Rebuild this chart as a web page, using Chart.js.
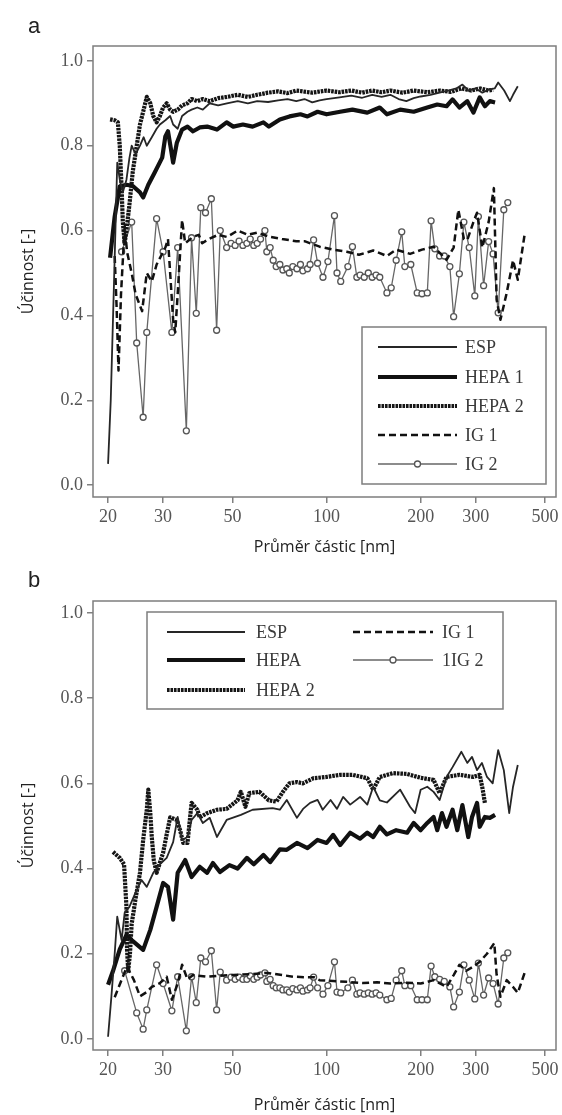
<!DOCTYPE html>
<html>
<head>
<meta charset="utf-8">
<script src="https://cdn.jsdelivr.net/npm/chart.js@4"></script>
<style>
  body { margin: 0; background: #fff; }
  canvas { display: block; }
</style>
</head>
<body>
<canvas id="chartA" width="562" height="557"></canvas>
<canvas id="chartB" width="562" height="558"></canvas>
<script>
const xTicks = [20, 30, 50, 100, 200, 300, 500];
const yTicks = [0, 0.2, 0.4, 0.6, 0.8, 1.0];

const legendA = ['ESP', 'HEPA 1', 'HEPA 2', 'IG 1', 'IG 2'];
const legendB = ['ESP', 'HEPA', 'HEPA 2', 'IG 1', '1IG 2'];

// panel a: [particle diameter nm, efficiency]
const espA = [[20.0,0.05],[20.4,0.2],[20.9,0.48],[21.4,0.76],[21.8,0.72],[22.3,0.69],[22.9,0.72],[23.4,0.77],[23.8,0.8],[24.5,0.78],[25.3,0.8],[26.0,0.82],[26.6,0.8],[27.6,0.82],[28.6,0.84],[29.3,0.85],[30.5,0.86],[31.6,0.87],[32.3,0.85],[33.4,0.84],[34.5,0.87],[35.9,0.88],[37.0,0.885],[38.6,0.89],[40.2,0.885],[42.3,0.9],[45.0,0.895],[48.0,0.9],[52.0,0.905],[56.0,0.9],[60.0,0.905],[65.0,0.903],[70.0,0.907],[75.0,0.91],[80.0,0.905],[85.0,0.91],[90.0,0.902],[95.0,0.907],[100,0.91],[110,0.914],[120,0.918],[130,0.913],[140,0.92],[150,0.915],[160,0.92],[170,0.91],[180,0.905],[190,0.912],[200,0.916],[215,0.92],[230,0.925],[245,0.93],[260,0.935],[272,0.944],[285,0.93],[300,0.935],[315,0.925],[330,0.932],[345,0.935],[354,0.949],[370,0.93],[386,0.905],[395,0.92],[409,0.94]];

const hepa1A = [[20.3,0.536],[21.0,0.633],[21.8,0.704],[22.9,0.708],[24.0,0.705],[25.3,0.69],[25.9,0.678],[26.9,0.708],[28.2,0.737],[29.8,0.772],[30.5,0.822],[31.1,0.834],[31.8,0.791],[32.3,0.76],[33.2,0.807],[34.5,0.838],[35.9,0.845],[37.4,0.834],[39.3,0.843],[41.5,0.845],[44.6,0.838],[47.9,0.855],[50.3,0.845],[54.0,0.85],[58.0,0.845],[62.8,0.855],[65.4,0.845],[70.9,0.862],[76.1,0.869],[82.5,0.874],[86.9,0.869],[93.6,0.88],[100,0.874],[110.5,0.88],[121,0.885],[135,0.878],[148,0.89],[156,0.874],[172,0.885],[190,0.88],[210,0.89],[226,0.897],[242,0.893],[253,0.909],[266,0.89],[282,0.905],[295,0.878],[309,0.914],[321,0.893],[333,0.905],[346,0.902]];

const hepa2A = [[20.3,0.862],[21.0,0.86],[21.5,0.855],[21.8,0.8],[22.1,0.7],[22.3,0.62],[22.6,0.57],[22.9,0.6],[23.4,0.66],[24.0,0.74],[24.7,0.8],[25.3,0.85],[25.9,0.88],[26.6,0.915],[27.3,0.9],[27.9,0.87],[28.6,0.855],[29.3,0.87],[30.0,0.89],[30.8,0.9],[31.6,0.885],[32.3,0.88],[33.4,0.885],[34.5,0.895],[35.9,0.9],[37.0,0.91],[38.6,0.905],[40.2,0.91],[42.3,0.905],[45.0,0.912],[48.0,0.915],[52.0,0.92],[56.0,0.915],[60.0,0.92],[65.0,0.925],[70.0,0.928],[75.0,0.924],[80.0,0.93],[90.0,0.925],[100,0.93],[110,0.926],[120,0.93],[130,0.925],[140,0.93],[150,0.926],[160,0.93],[175,0.925],[190,0.93],[210,0.926],[230,0.93],[250,0.927],[270,0.935],[290,0.93],[310,0.935],[330,0.93],[341,0.932]];

const ig1A = [[21.0,0.54],[21.3,0.42],[21.6,0.27],[22.0,0.45],[22.6,0.61],[23.0,0.55],[23.8,0.5],[24.5,0.45],[25.7,0.41],[26.6,0.5],[27.6,0.48],[28.6,0.52],[29.3,0.535],[30.5,0.56],[31.1,0.58],[32.3,0.39],[32.8,0.36],[33.4,0.45],[34.5,0.625],[35.3,0.57],[37.4,0.585],[39.0,0.59],[40.0,0.57],[42.0,0.58],[45.0,0.59],[48.0,0.585],[52.0,0.6],[56.0,0.59],[60.0,0.595],[66.0,0.585],[72.0,0.58],[80.0,0.575],[85.0,0.575],[95.0,0.562],[105,0.555],[116,0.55],[127,0.543],[141,0.553],[156,0.54],[167,0.555],[185,0.545],[202,0.555],[220,0.562],[242,0.531],[255,0.56],[264,0.649],[275,0.58],[282,0.578],[295,0.62],[303,0.642],[315,0.56],[330,0.62],[343,0.70],[350,0.437],[360,0.39],[377,0.453],[395,0.53],[409,0.484],[431,0.595]];

const ig2A = [[22.1,0.55],[23.8,0.62],[24.7,0.335],[25.9,0.16],[26.6,0.36],[28.6,0.628],[30.0,0.55],[32.0,0.36],[33.4,0.56],[35.6,0.128],[37.0,0.583],[38.3,0.405],[39.6,0.654],[41.0,0.642],[42.8,0.675],[44.5,0.365],[45.7,0.6],[47.9,0.56],[49.5,0.57],[51.0,0.565],[52.5,0.575],[54.0,0.565],[55.6,0.57],[57.0,0.58],[58.5,0.565],[60.0,0.57],[61.5,0.58],[63.5,0.6],[64.4,0.55],[66.0,0.56],[67.5,0.53],[69.0,0.515],[70.9,0.52],[72.5,0.507],[74.6,0.51],[76.0,0.5],[78.0,0.515],[80.4,0.51],[82.5,0.52],[84.0,0.505],[86.9,0.51],[88.6,0.52],[90.9,0.578],[93.6,0.523],[97.4,0.49],[101,0.527],[106,0.635],[108,0.5],[111,0.48],[117,0.515],[121,0.562],[125,0.49],[128,0.495],[132,0.49],[136,0.5],[140,0.49],[144,0.495],[148,0.49],[156,0.453],[161,0.465],[167,0.53],[174,0.597],[178,0.515],[186,0.52],[195,0.453],[202,0.451],[210,0.453],[216,0.623],[222,0.557],[230,0.54],[238,0.54],[248,0.515],[255,0.397],[266,0.498],[275,0.62],[286,0.56],[298,0.446],[306,0.633],[318,0.47],[330,0.574],[341,0.545],[354,0.406],[369,0.649],[380,0.666]];

// panel b
const espB = [[20.0,0.005],[20.5,0.1],[21.0,0.2],[21.4,0.287],[22.1,0.232],[22.6,0.296],[23.4,0.31],[24.7,0.35],[25.6,0.373],[26.6,0.357],[27.9,0.39],[29.3,0.41],[30.8,0.425],[32.3,0.462],[33.4,0.521],[34.5,0.467],[35.9,0.474],[37.0,0.514],[38.6,0.53],[40.2,0.507],[42.3,0.519],[44.6,0.474],[47.9,0.514],[53.2,0.526],[58.0,0.538],[67.2,0.542],[70.9,0.538],[74.6,0.561],[80.4,0.519],[84.1,0.54],[88.6,0.554],[93.6,0.561],[97.2,0.538],[103,0.561],[108,0.54],[113,0.568],[119,0.55],[128,0.568],[135,0.55],[141,0.592],[148,0.56],[156,0.555],[172,0.585],[185,0.545],[192,0.53],[200,0.585],[210,0.592],[220,0.58],[230,0.561],[242,0.615],[253,0.638],[270,0.674],[282,0.648],[292,0.662],[303,0.631],[314,0.648],[326,0.615],[340,0.6],[354,0.678],[369,0.631],[384,0.53],[395,0.592],[409,0.643]];

const hepa1B = [[20.0,0.127],[20.75,0.16],[21.8,0.21],[22.9,0.244],[23.8,0.232],[25.9,0.209],[27.3,0.256],[28.6,0.31],[30.0,0.366],[31.1,0.357],[32.3,0.28],[33.4,0.39],[35.3,0.42],[37.0,0.38],[39.3,0.404],[41.5,0.39],[43.3,0.413],[45.6,0.392],[48.9,0.408],[51.9,0.4],[55.6,0.425],[58.5,0.41],[62.8,0.432],[66.0,0.415],[70.9,0.445],[74.6,0.444],[80.4,0.46],[86.9,0.448],[93.6,0.467],[100,0.46],[105,0.479],[110.5,0.455],[119,0.484],[128,0.47],[135,0.484],[141,0.474],[148,0.498],[156,0.48],[167,0.49],[181,0.484],[190,0.507],[200,0.49],[210,0.507],[220,0.521],[226,0.49],[234,0.53],[242,0.498],[253,0.538],[262,0.49],[272,0.549],[284,0.474],[292,0.521],[303,0.554],[309,0.498],[321,0.521],[333,0.519],[346,0.526]];

const hepa2B = [[20.75,0.439],[21.8,0.425],[22.5,0.41],[22.9,0.31],[23.0,0.21],[23.2,0.16],[23.5,0.2],[23.8,0.27],[24.5,0.33],[25.3,0.39],[25.9,0.467],[26.6,0.538],[26.9,0.585],[27.3,0.53],[27.6,0.474],[28.0,0.42],[28.6,0.39],[30.0,0.437],[30.8,0.48],[31.6,0.52],[33.2,0.514],[34.0,0.49],[34.8,0.46],[35.9,0.46],[37.0,0.554],[38.6,0.538],[39.3,0.52],[41.5,0.53],[44.6,0.538],[47.9,0.54],[51.9,0.56],[53.2,0.58],[55.0,0.545],[56.6,0.577],[61.0,0.58],[65.4,0.56],[69.1,0.557],[72.5,0.58],[76.1,0.6],[80.4,0.603],[84.0,0.6],[90.9,0.612],[100,0.615],[110.5,0.62],[121,0.62],[135,0.612],[141,0.585],[148,0.615],[163,0.624],[181,0.622],[200,0.613],[220,0.608],[230,0.577],[242,0.615],[266,0.62],[295,0.615],[309,0.62],[316,0.585],[321,0.554]];

const ig1B = [[21.0,0.098],[22.3,0.146],[23.0,0.17],[24.2,0.138],[25.3,0.1],[26.6,0.11],[27.6,0.122],[29.3,0.131],[30.8,0.146],[32.0,0.092],[33.4,0.13],[34.5,0.174],[35.9,0.14],[37.4,0.15],[41.5,0.146],[45.0,0.148],[50.3,0.15],[57.0,0.152],[64.4,0.155],[72.0,0.15],[78.4,0.146],[85.0,0.145],[91.0,0.145],[95.0,0.138],[105,0.136],[116,0.134],[131,0.131],[145,0.133],[160,0.13],[180,0.132],[200,0.13],[220,0.138],[242,0.122],[255,0.15],[266,0.174],[280,0.16],[295,0.17],[309,0.181],[326,0.2],[344,0.225],[350,0.15],[360,0.099],[377,0.138],[395,0.122],[409,0.108],[431,0.157]];

const ig2B = [[22.6,0.16],[24.7,0.061],[25.9,0.023],[26.6,0.068],[28.6,0.174],[30.0,0.13],[32.0,0.066],[33.4,0.146],[35.6,0.019],[37.0,0.146],[38.3,0.085],[39.6,0.19],[41.0,0.181],[42.8,0.207],[44.5,0.068],[45.7,0.157],[47.9,0.138],[49.5,0.145],[51.0,0.14],[52.5,0.145],[54.0,0.14],[55.6,0.14],[57.0,0.148],[58.5,0.14],[60.0,0.145],[61.5,0.15],[63.5,0.155],[64.4,0.135],[66.0,0.14],[67.5,0.125],[69.0,0.12],[70.9,0.12],[72.5,0.115],[74.6,0.115],[76.0,0.11],[78.0,0.118],[80.4,0.115],[82.5,0.12],[84.0,0.112],[86.9,0.115],[88.6,0.12],[90.9,0.145],[93.6,0.12],[97.4,0.105],[101,0.125],[106,0.181],[108,0.11],[111,0.108],[117,0.12],[121,0.138],[125,0.105],[128,0.108],[132,0.105],[136,0.108],[140,0.105],[144,0.108],[148,0.103],[156,0.092],[161,0.095],[167,0.138],[174,0.16],[178,0.125],[186,0.125],[195,0.092],[202,0.092],[210,0.092],[216,0.171],[222,0.146],[230,0.14],[238,0.135],[248,0.122],[255,0.075],[266,0.11],[275,0.174],[286,0.138],[298,0.094],[306,0.178],[318,0.103],[330,0.143],[341,0.13],[354,0.082],[369,0.19],[380,0.202]];

// line styles, same order as the legend entries
const lineStyles = [
  { borderColor: '#262626', borderWidth: 1.8 },
  { borderColor: '#111', borderWidth: 4.2 },
  { borderColor: '#151515', borderWidth: 4.2, borderDash: [2.6, 0.9] },
  { borderColor: '#111', borderWidth: 2.5, borderDash: [7, 4] },
  { borderColor: '#666', borderWidth: 1.3, pointRadius: 3, pointBorderWidth: 1.3,
    pointBorderColor: '#555', pointBackgroundColor: '#fff' }
];

const tickFont = { family: '"Liberation Serif", serif', size: 18 };
const titleFont = { family: '"Open Sans", sans-serif', size: 16 };

// frame around the plot, boxed legend and panel letter
const panelDecor = {
  id: 'panelDecor',
  afterDatasetsDraw(chart, args, opts) {
    const { ctx, chartArea: a } = chart;
    ctx.save();
    ctx.strokeStyle = '#7d7d7d';
    ctx.lineWidth = 1.5;
    ctx.strokeRect(a.left, a.top, a.right - a.left, a.bottom - a.top);

    const b = opts.box;
    ctx.fillStyle = '#fff';
    ctx.fillRect(b[0], b[1], b[2], b[3]);
    ctx.strokeRect(b[0], b[1], b[2], b[3]);

    ctx.font = '18px "Liberation Serif", serif';
    ctx.textBaseline = 'middle';
    opts.items.forEach((it, i) => {
      const ds = chart.data.datasets[i];
      ctx.strokeStyle = ds.borderColor;
      ctx.lineWidth = ds.borderWidth;
      ctx.setLineDash(ds.borderDash || []);
      ctx.beginPath();
      ctx.moveTo(it[0], it[2]);
      ctx.lineTo(it[1], it[2]);
      ctx.stroke();
      ctx.setLineDash([]);
      if (ds.pointRadius) {
        ctx.beginPath();
        ctx.arc((it[0] + it[1]) / 2, it[2], ds.pointRadius, 0, Math.PI * 2);
        ctx.fillStyle = '#fff';
        ctx.fill();
        ctx.strokeStyle = ds.pointBorderColor;
        ctx.lineWidth = ds.pointBorderWidth;
        ctx.stroke();
      }
      ctx.fillStyle = '#3a3a3a';
      ctx.fillText(ds.label, it[3], it[2] + 1);
    });

    ctx.fillStyle = '#222';
    ctx.font = '22px "Liberation Sans", sans-serif';
    ctx.textBaseline = 'alphabetic';
    ctx.fillText(opts.letter, 28, opts.letterY);
    ctx.restore();
  }
};

function buildChart(id, series, labels, cfg) {
  const datasets = series.map((pts, i) => Object.assign({
    label: labels[i],
    data: pts.map(([x, y]) => ({ x, y })),
    pointRadius: 0,
    fill: false,
    borderJoinStyle: 'round'
  }, lineStyles[i]));

  return new Chart(document.getElementById(id), {
    type: 'line',
    data: { datasets },
    options: {
      responsive: false,
      animation: false,
      layout: { padding: { left: 0, top: cfg.top, right: 6, bottom: 0 } },
      plugins: {
        legend: { display: false },
        tooltip: { enabled: false },
        panelDecor: cfg.decor
      },
      scales: {
        x: {
          type: 'logarithmic',
          min: 17.9,
          max: 542,
          bounds: 'data',
          afterBuildTicks: s => { s.ticks = xTicks.map(v => ({ value: v })); },
          afterFit: s => { s.height = cfg.xAxisHeight; },
          ticks: { callback: v => String(v), autoSkip: false, maxRotation: 0, color: '#555', font: tickFont, padding: 3 },
          grid: { drawOnChartArea: false, tickLength: 6, color: '#808080', lineWidth: 1.5 },
          border: { display: false },
          title: { display: true, text: 'Průměr částic [nm]', color: '#222', font: titleFont, padding: { top: 0, bottom: cfg.titlePad } }
        },
        y: {
          min: cfg.yMin,
          max: cfg.yMax,
          afterBuildTicks: s => { s.ticks = yTicks.map(v => ({ value: v })); },
          afterFit: s => { s.width = 93; },
          ticks: { callback: v => v.toFixed(1), color: '#555', font: tickFont, padding: 4 },
          grid: { drawOnChartArea: false, tickLength: 6, color: '#808080', lineWidth: 1.5 },
          border: { display: false },
          title: { display: true, text: 'Účinnost [-]', color: '#222', font: titleFont, padding: { top: 19, bottom: 0 } }
        }
      }
    },
    plugins: [panelDecor]
  });
}

buildChart('chartA', [espA, hepa1A, hepa2A, ig1A, ig2A], legendA, {
  top: 46, xAxisHeight: 60, titlePad: 0, yMin: -0.028, yMax: 1.035,
  decor: {
    letter: 'a', letterY: 33,
    box: [362, 327, 184, 157],
    items: [[378, 457, 347, 465], [378, 457, 377, 465], [378, 457, 406, 465], [378, 457, 435, 465], [378, 457, 464, 465]]
  }
});

buildChart('chartB', [espB, hepa1B, hepa2B, ig1B, ig2B], legendB, {
  top: 44, xAxisHeight: 65, titlePad: 0.4, yMin: -0.026, yMax: 1.028,
  decor: {
    letter: 'b', letterY: 30,
    box: [147, 55, 356, 97],
    items: [[167, 245, 75, 256], [167, 245, 103, 256], [167, 245, 133, 256], [353, 433, 75, 442], [353, 433, 103, 442]]
  }
});
</script>
</body>
</html>
